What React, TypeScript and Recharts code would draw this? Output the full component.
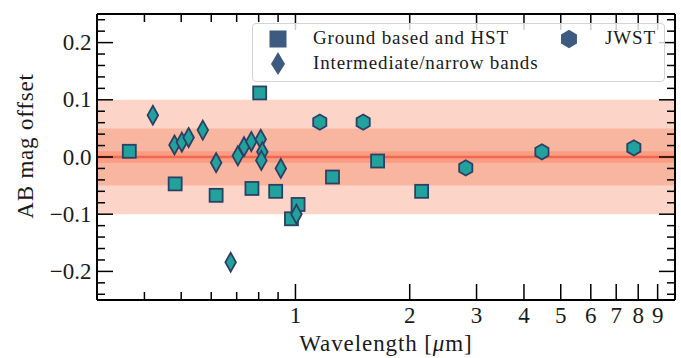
import { ScatterChart, Scatter, XAxis, YAxis, ReferenceArea, ReferenceLine } from 'recharts';

// wavelengths in micron, offsets in AB mag
const groundLambda = [0.365, 0.482, 0.618, 0.768, 0.805, 0.887, 0.976, 1.016, 1.252, 1.646, 2.15];
const groundOffset = [0.01, -0.047, -0.067, -0.055, 0.112, -0.06, -0.108, -0.083, -0.035, -0.007, -0.06];

const narrowLambda = [0.421, 0.48, 0.502, 0.523, 0.57, 0.618, 0.675, 0.705, 0.732, 0.765, 0.81, 0.818, 0.813, 0.915, 1.006];
const narrowOffset = [0.073, 0.021, 0.026, 0.034, 0.047, -0.01, -0.184, 0.002, 0.018, 0.027, 0.031, 0.009, -0.006, -0.02, -0.1];

const jwstLambda = [1.159, 1.508, 2.81, 4.46, 7.79];
const jwstOffset = [0.061, 0.061, -0.019, 0.009, 0.016];

const xTicks = [0.4, 0.5, 0.6, 0.7, 0.8, 0.9, 1, 2, 3, 4, 5, 6, 7, 8, 9];
const yTicks = [-0.24, -0.22, -0.2, -0.18, -0.16, -0.14, -0.12, -0.1, -0.08, -0.06, -0.04, -0.02, 0,
  0.02, 0.04, 0.06, 0.08, 0.1, 0.12, 0.14, 0.16, 0.18, 0.2, 0.22, 0.24];

const legendLabels = ['Ground based and HST', 'Intermediate/narrow bands', 'JWST'];

const FONT = "'Liberation Serif', 'Times New Roman', serif";
const FACE = '#22a29c';
const EDGE = '#2c4066';
const LEG = '#3d5a80';

// svg text props: font set both as attribute and as inline style
const txt = (size: number, spacing = 0): any => ({
  fontFamily: 'Liberation Serif',
  fontSize: size,
  fill: '#1a1a1a',
  style: { fontFamily: FONT, fontSize: size, letterSpacing: spacing },
});

const toPts = (xs: number[], ys: number[]) => xs.map((x, i) => ({ x, y: ys[i] }));

const isMajorY = (v: number) => Math.abs(v * 10 - Math.round(v * 10)) < 1e-6;
const fmtY = (v: number) => (Math.abs(v) < 1e-9 ? '0.0' : v.toFixed(1).replace('-', '\u2212'));

const BottomTick = (p: any) => {
  const v = p.payload.value;
  const len = v >= 1 ? 16 : 8;
  return (
    <g>
      <line x1={p.x} x2={p.x} y1={p.y} y2={p.y - len} stroke="#000" strokeWidth={1.5} />
      {v >= 1 && (
        <text x={p.x} y={p.y + 23} textAnchor="middle" {...txt(23)}>{v}</text>
      )}
    </g>
  );
};

const TopTick = (p: any) => {
  const len = p.payload.value >= 1 ? 16 : 8;
  return <line x1={p.x} x2={p.x} y1={p.y} y2={p.y + len} stroke="#000" strokeWidth={1.5} />;
};

const LeftTick = (p: any) => {
  const v = p.payload.value;
  const major = isMajorY(v);
  return (
    <g>
      <line x1={p.x} x2={p.x + (major ? 16 : 8)} y1={p.y} y2={p.y} stroke="#000" strokeWidth={1.5} />
      {major && (
        <text x={p.x - 5.5} y={p.y + 7.5} textAnchor="end" {...txt(23)}>{fmtY(v)}</text>
      )}
    </g>
  );
};

const RightTick = (p: any) => {
  const major = isMajorY(p.payload.value);
  return <line x1={p.x} x2={p.x - (major ? 16 : 8)} y1={p.y} y2={p.y} stroke="#000" strokeWidth={1.5} />;
};

const SquareMark = (p: any) => (
  <rect x={p.cx - 6.5} y={p.cy - 6.5} width={13} height={13} fill={FACE} stroke={EDGE} strokeWidth={1.8} />
);

const DiamondMark = (p: any) => (
  <polygon
    points={`${p.cx},${p.cy - 9.5} ${p.cx + 5.3},${p.cy} ${p.cx},${p.cy + 9.5} ${p.cx - 5.3},${p.cy}`}
    fill={FACE} stroke={EDGE} strokeWidth={1.8}
  />
);

const hexPoints = (cx: number, cy: number, r: number) =>
  [-90, -30, 30, 90, 150, 210]
    .map((a) => `${cx + r * Math.cos((a * Math.PI) / 180)},${cy + r * Math.sin((a * Math.PI) / 180)}`)
    .join(' ');

const HexMark = (p: any) => <polygon points={hexPoints(p.cx, p.cy, 7.6)} fill={FACE} stroke={EDGE} strokeWidth={1.8} />;

const legendText: any = {
  position: 'absolute', fontFamily: FONT, fontSize: 19, letterSpacing: 0.85, color: '#1a1a1a',
  lineHeight: '20px', whiteSpace: 'nowrap',
};

function Legend() {
  return (
    <div style={{
      position: 'absolute', left: 252, top: 23, width: 413, height: 59, boxSizing: 'border-box',
      border: '1px solid #d4d4d4', borderRadius: 4, background: 'rgba(255,255,255,0.8)',
    }}>
      <svg width={413} height={59} style={{ position: 'absolute', left: 0, top: 0 }}>
        <rect x={26 - 8.5 - 1} y={15 - 8.5} width={17} height={17} fill={LEG} />
        <polygon points="25,28 32,40 25,51 18,40" fill={LEG} />
        <polygon points={hexPoints(316, 15, 9.2)} fill={LEG} />
      </svg>
      <div style={{ ...legendText, left: 60, top: 4 }}>{legendLabels[0]}</div>
      <div style={{ ...legendText, left: 60, top: 29 }}>{legendLabels[1]}</div>
      <div style={{ ...legendText, left: 352, top: 4 }}>{legendLabels[2]}</div>
    </div>
  );
}

export default function App() {
  return (
    <div style={{ position: 'absolute', left: 0, top: 0, width: 681, height: 358, background: '#fff' }}>
      <ScatterChart width={681} height={358} margin={{ top: 13, right: 5, bottom: 57, left: 96 }}>
        <XAxis
          xAxisId="b" dataKey="x" type="number" scale="log" domain={[0.3, 10]} allowDataOverflow
          ticks={xTicks} interval={0} height={1} tickSize={0} tickMargin={0} tickLine={false}
          axisLine={{ stroke: '#000', strokeWidth: 2 }} tick={(p: any) => <BottomTick {...p} />}
          label={{
            content: (lp: any) => (
              <text x={lp.viewBox.x + lp.viewBox.width / 2} y={lp.viewBox.y + 51} textAnchor="middle"
                {...txt(23, 0.9)}>
                Wavelength [<tspan fontStyle="italic">μ</tspan>m]
              </text>
            ),
          }}
        />
        <XAxis
          xAxisId="t" orientation="top" dataKey="x" type="number" scale="log" domain={[0.3, 10]} allowDataOverflow
          ticks={xTicks} interval={0} height={1} tickSize={0} tickMargin={0} tickLine={false}
          axisLine={{ stroke: '#000', strokeWidth: 2 }} tick={(p: any) => <TopTick {...p} />}
        />
        <YAxis
          yAxisId="l" dataKey="y" type="number" domain={[-0.25, 0.25]} allowDataOverflow
          ticks={yTicks} interval={0} width={1} tickSize={0} tickMargin={0} tickLine={false}
          axisLine={{ stroke: '#000', strokeWidth: 2 }} tick={(p: any) => <LeftTick {...p} />}
          label={{
            content: (lp: any) => {
              const cx = lp.viewBox.x + lp.viewBox.width - 64;
              const cy = lp.viewBox.y + lp.viewBox.height / 2 - 11;
              return (
                <text x={cx} y={cy} transform={`rotate(-90, ${cx}, ${cy})`} textAnchor="middle" {...txt(23, 0.8)}>
                  AB mag offset
                </text>
              );
            },
          }}
        />
        <YAxis
          yAxisId="r" orientation="right" dataKey="y" type="number" domain={[-0.25, 0.25]} allowDataOverflow
          ticks={yTicks} interval={0} width={1} tickSize={0} tickMargin={0} tickLine={false}
          axisLine={{ stroke: '#000', strokeWidth: 2 }} tick={(p: any) => <RightTick {...p} />}
        />
        <ReferenceArea xAxisId="b" yAxisId="l" y1={-0.1} y2={0.1} fill="#fcd5c8" fillOpacity={1} stroke="none" />
        <ReferenceArea xAxisId="b" yAxisId="l" y1={-0.05} y2={0.05} fill="#f8b59f" fillOpacity={1} stroke="none" />
        <ReferenceArea xAxisId="b" yAxisId="l" y1={-0.01} y2={0.01} fill="#f99d85" fillOpacity={1} stroke="none" />
        <ReferenceLine xAxisId="b" yAxisId="l" y={0} stroke="#f2684e" strokeWidth={2.5} />
        <Scatter xAxisId="b" yAxisId="l" data={toPts(groundLambda, groundOffset)} shape={SquareMark} isAnimationActive={false} />
        <Scatter xAxisId="b" yAxisId="l" data={toPts(narrowLambda, narrowOffset)} shape={DiamondMark} isAnimationActive={false} />
        <Scatter xAxisId="b" yAxisId="l" data={toPts(jwstLambda, jwstOffset)} shape={HexMark} isAnimationActive={false} />
      </ScatterChart>
      <Legend />
    </div>
  );
}
